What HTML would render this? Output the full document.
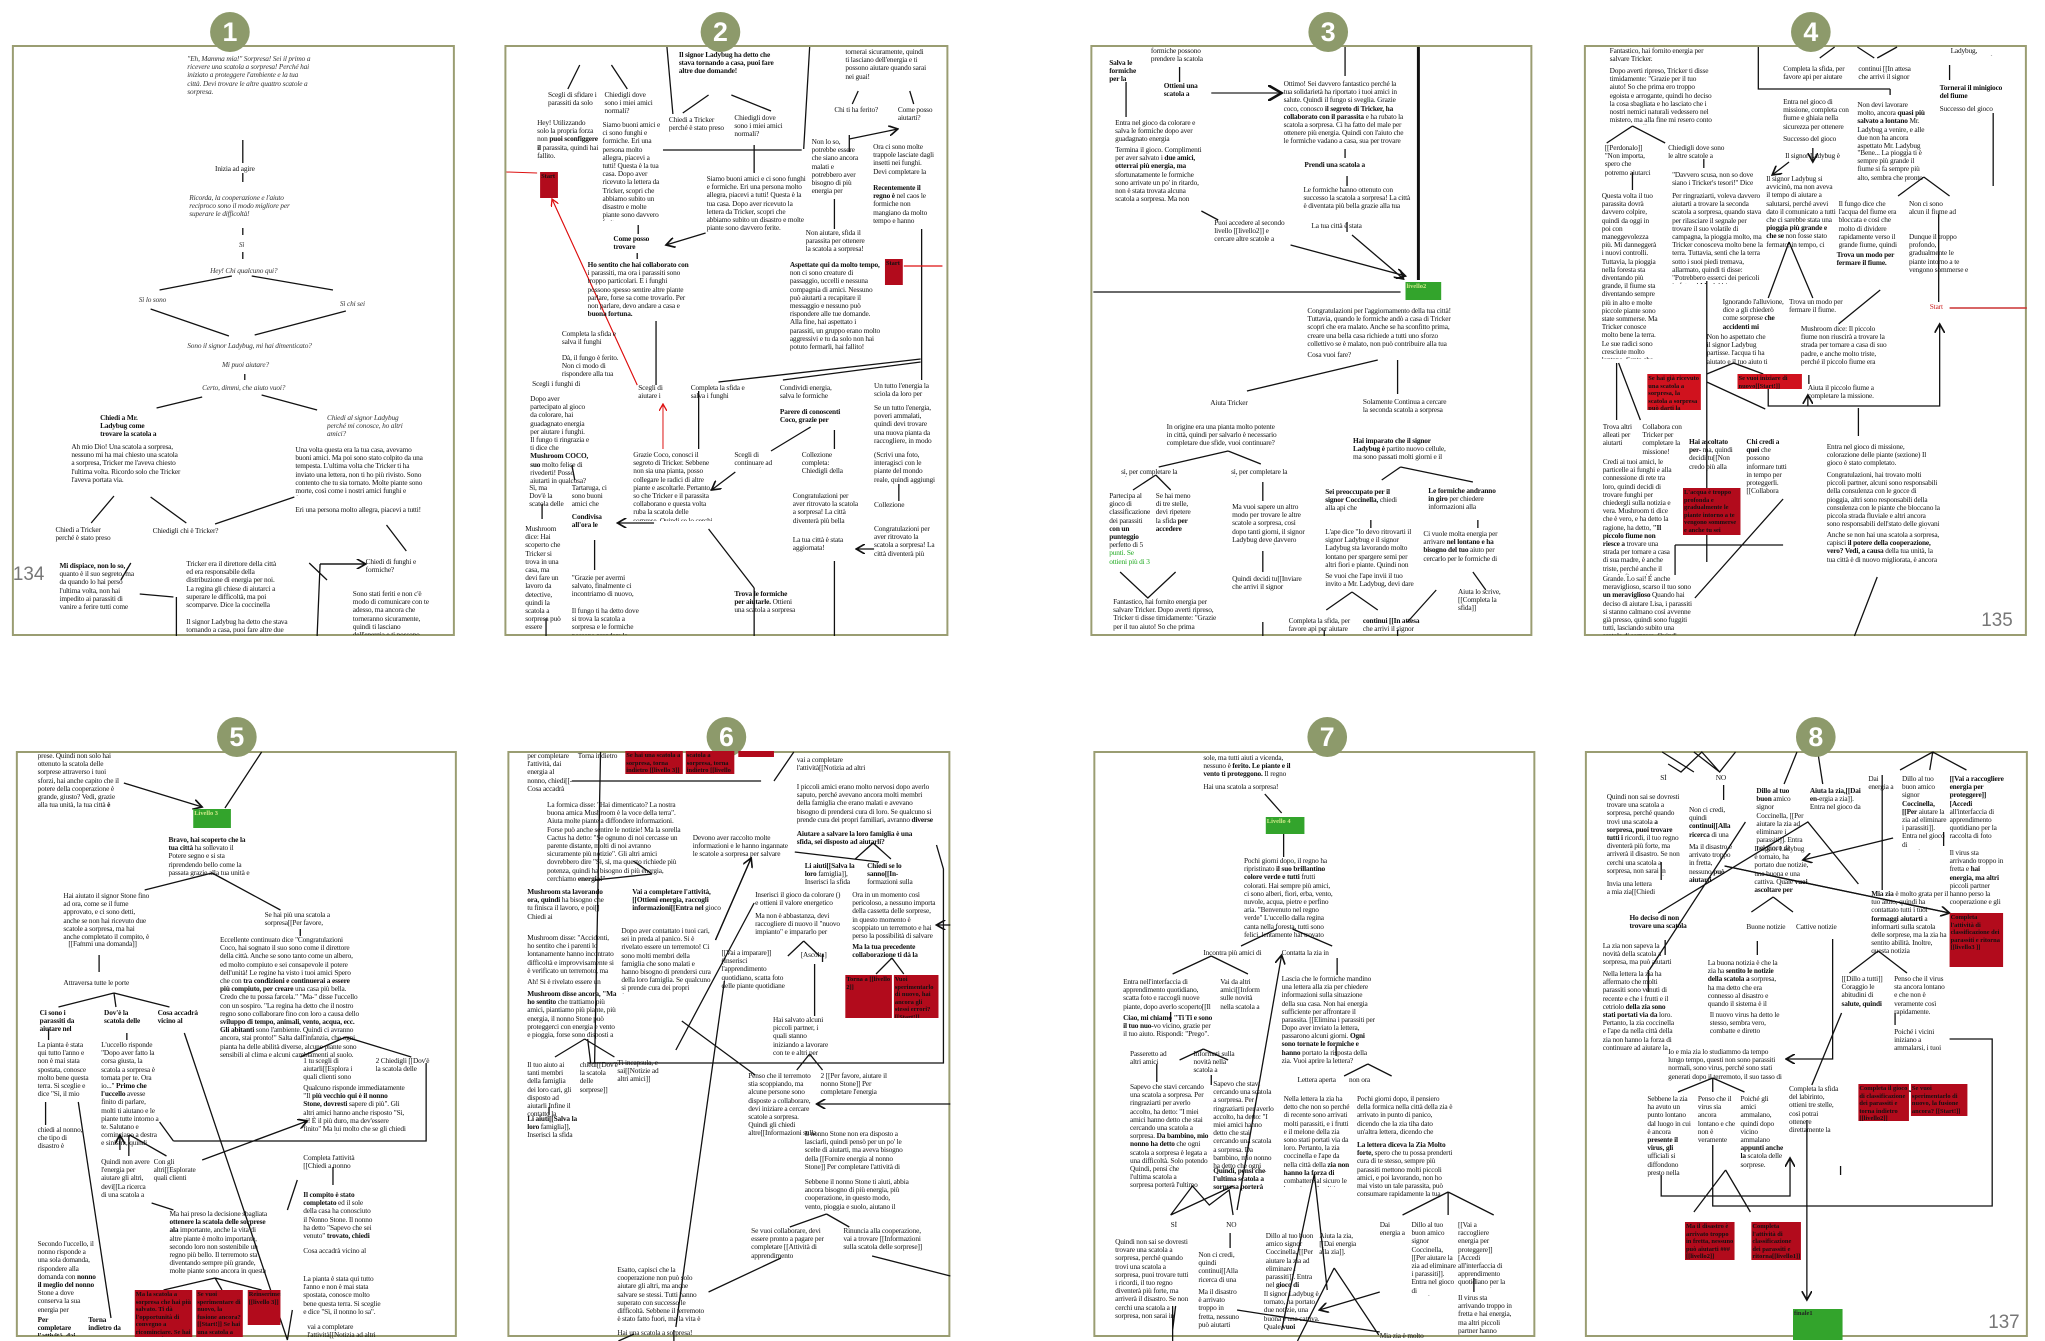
<!DOCTYPE html>
<html><head><meta charset="utf-8"><style>
html,body{margin:0;padding:0;background:#fff}
body{width:2045px;height:1341px;position:relative;overflow:hidden}
.w{position:absolute;left:0;top:0;width:2045px;height:1341px}
.wl{transform-origin:0 0;transform:scaleX(0.991)}
.wr{transform-origin:1022px 0;transform:scaleX(0.991)}
.p{position:absolute;border:2px solid #9a9d72;box-sizing:border-box;background:#fff}
.c{position:absolute;width:40px;height:40px;border-radius:50%;background:#8d9a6b;color:#fff;font:bold 27px/40px "Liberation Sans",sans-serif;text-align:center}
.t{position:absolute;font:7.4px/8.2px "Liberation Serif",serif;color:#111;overflow:hidden;letter-spacing:-0.15px}
.b{font-weight:bold}
.i{font-style:italic;color:#333}
.r{position:absolute;background:#b20b1c;font:bold 6.5px/7.5px "Liberation Serif",serif;color:#111;overflow:hidden;padding:1px}
.rb{background:#d0121e}
.g{position:absolute;background:#33a42c;font:bold 6.5px/8px "Liberation Serif",serif;color:#cfe88a;padding:1px}
.pg{position:absolute;font:19px "Liberation Sans",sans-serif;color:#777}
svg{position:absolute;left:0;top:0}
</style></head><body>

<!-- panels -->
<div class="w wl">
<div class="p" style="left:12px;top:45px;width:447px;height:591px"></div>
<div class="p" style="left:509px;top:45px;width:448px;height:591px"></div>
<div class="p" style="left:16px;top:751px;width:445px;height:586px"></div>
<div class="p" style="left:512px;top:751px;width:447px;height:586px"></div>
</div>
<div class="w wr">
<div class="p" style="left:1091px;top:45px;width:446px;height:591px"></div>
<div class="p" style="left:1589px;top:45px;width:447px;height:591px"></div>
<div class="p" style="left:1094px;top:751px;width:446px;height:586px"></div>
<div class="p" style="left:1590px;top:751px;width:447px;height:586px"></div>
</div>

<!-- LEFT HALF CONTENT -->
<div class="w wl">
<svg width="2045" height="1341" stroke="#111" stroke-width="1.3" fill="none">
<defs><marker id="a" markerWidth="8" markerHeight="8" refX="7" refY="4" orient="auto"><path d="M0,0 L7,4 L0,8" stroke="#111" fill="none"/></marker>
<marker id="ar" markerWidth="8" markerHeight="8" refX="7" refY="4" orient="auto"><path d="M0,0 L7,4 L0,8" stroke="#d11" fill="none"/></marker></defs>
<!-- panel 1 -->
<path d="M245,140V163M245,173V182M245,228V235M245,252V259M234,276L161,290M254,276L336,290M152,309L231,336M349,311L257,335M247,374V380M204,397L158,408M264,395L320,410M115,496L92,523M152,497L188,523M297,497L217,524M132,563L122,580M312,563L330,580M390,525L410,551M323,564H369M323,564L320,636M141,594L175,597M178,597V636"/>
<path d="M323,564H369" marker-end="url(#a)"/>
<!-- panel 2 -->
<path d="M585,65L573,89M617,65L633,89M673,47L679,114M817,47L811,149M715,95L689,113M738,95L778,111M866,91L860,104M918,91L922,104M669,150H809M761,145V173M857,135V152M842,199V229M930,229V380M644,225V234M643,253V259M662,321V385M705,391V449M725,382L929,359M790,380L929,362M842,430V449M842,561V636M761,588V636M600,540V570M547,504V519M907,484V501M715,529L761,588M577,465L580,480M551,618V636M818,427L778,451"/>
<path d="M857,139L906,129" marker-end="url(#a)"/>
<path d="M712,233L672,245" marker-end="url(#a)"/>
<path d="M742,472L718,490" marker-end="url(#a)"/>
<path d="M660,523H623" marker-end="url(#a)"/>
<path d="M882,549H864" marker-end="url(#a)"/>
<path d="M542,173L511,172M557,199L643,385" stroke="#d11" stroke-width="1"/>
<path d="M643,385L557,199" stroke="#d11" stroke-width="1" marker-end="url(#ar)"/>
<path d="M669,449V404" stroke="#d11" stroke-width="1" marker-end="url(#ar)"/>
<path d="M912,266H951" stroke="#d11" stroke-width="1.2"/>
<!-- panel 5 -->
<path d="M125,783L204,807" marker-end="url(#a)"/>
<path d="M264,752L227,808M214,873L146,890M214,873L283,910M100,955V972M303,929V936M115,993L59,1007M115,993L117,1007M115,993L171,1007M49,1029V1040M128,1033V1040M46,1102V1125M79,1102L112,1318M186,1033L290,1340M349,1037L303,1057M349,1037L415,1057M175,1141H430V1063M161,1122L175,1141M130,1135V1156M131,1135L168,1156M336,1167V1185M153,1203L175,1210M217,1278L165,1290M217,1278L224,1290M217,1278L264,1290M290,1340L295,1310"/>
<path d="M121,1150V1135" marker-end="url(#a)"/>
<path d="M204,1160L310,1121" marker-end="url(#a)"/>
<path d="M290,1210L300,1180" />
<!-- panel 6 -->
<path d="M606,752L600,1063M593,1063H952V869L945,845M577,781H768M801,752L781,781M639,861L658,874M658,874L600,880M881,843L863,859M881,843L899,859M802,852L887,862M758,858L722,940M830,954V962M682,1050L761,903M811,941L795,956M811,941L827,956M822,964V1016M900,958L884,974M900,958L912,974M590,1039L560,1057M590,1039L620,1057M593,1039L596,1063M554,1107V1115M817,1054L804,1070M817,1054L830,1070M731,981L682,1327M834,1214L797,1227M834,1214L857,1227M880,1256L959,1276M788,1258L715,1292M680,1330V1341M640,1334L624,1341"/>
<path d="M959,1104H824" marker-end="url(#a)"/>
<path d="M959,925H945" marker-end="url(#a)"/>
<path d="M722,940L758,858" marker-end="url(#a)"/>
<path d="M688,1021L762,1075"/>
</svg>

<div class="c" style="left:212px;top:12px">1</div>
<div class="c" style="left:707px;top:12px">2</div>
<div class="c" style="left:219px;top:717px">5</div>
<div class="c" style="left:713px;top:717px">6</div>
<div class="pg" style="left:13px;top:564px">134</div>

<!-- panel 1 text -->
<div class="t i" style="left:189px;top:55px;width:125px;height:42px">"Eh, Mamma mia!" Sorpresa! Sei il primo a ricevere una scatola a sorpresa! Perché hai iniziato a proteggere l'ambiente e la tua città. Devi trovare le altre quattro scatole a sorpresa.</div>
<div class="t" style="left:217px;top:165px;width:60px;height:9px">Inizia ad agire</div>
<div class="t i" style="left:191px;top:194px;width:115px;height:25px">Ricorda, la cooperazione e l'aiuto reciproco sono il modo migliore per superare le difficoltà!</div>
<div class="t i" style="left:241px;top:241px;width:20px;height:9px">Sì</div>
<div class="t i" style="left:212px;top:267px;width:90px;height:9px">Hey! Chi qualcuno qui?</div>
<div class="t i" style="left:140px;top:296px;width:40px;height:9px">Sì lo sono</div>
<div class="t i" style="left:343px;top:300px;width:40px;height:9px">Sì chi sei</div>
<div class="t i" style="left:189px;top:342px;width:130px;height:9px">Sono il signor Ladybug, mi hai dimenticato?</div>
<div class="t i" style="left:224px;top:361px;width:70px;height:9px">Mi puoi aiutare?</div>
<div class="t i" style="left:204px;top:384px;width:100px;height:9px">Certo, dimmi, che aiuto vuoi?</div>
<div class="t b" style="left:101px;top:414px;width:65px;height:25px">Chiedi a Mr. Ladybug come trovare la scatola a sorpresa</div>
<div class="t i" style="left:330px;top:414px;width:80px;height:25px">Chiedi al signor Ladybug perché mi conosce, ho altri amici?</div>
<div class="t" style="left:72px;top:443px;width:110px;height:42px">Ah mio Dio! Una scatola a sorpresa, nessuno mi ha mai chiesto una scatola a sorpresa, Tricker me l'aveva chiesto l'ultima volta. Ricordo solo che Tricker l'aveva portata via.</div>
<div class="t" style="left:298px;top:446px;width:130px;height:50px">Una volta questa era la tua casa, avevamo buoni amici. Ma poi sono stato colpito da una tempesta. L'ultima volta che Tricker ti ha inviato una lettera, non ti ho più rivisto. Sono contento che tu sia tornato. Molte piante sono morte, così come i nostri amici funghi e formiche.</div>
<div class="t" style="left:298px;top:506px;width:130px;height:9px">Eri una persona molto allegra, piacevi a tutti!</div>
<div class="t" style="left:56px;top:526px;width:60px;height:17px">Chiedi a Tricker perché è stato preso</div>
<div class="t" style="left:154px;top:527px;width:75px;height:9px">Chiedigli chi è Tricker?</div>
<div class="t" style="left:60px;top:562px;width:80px;height:50px"><b>Mi dispiace, non lo so,</b> quanto è il suo segreto, ma da quando lo hai perso l'ultima volta, non hai impedito ai parassiti di vanire a ferire tutti come prima.</div>
<div class="t" style="left:188px;top:560px;width:95px;height:50px">Tricker era il direttore della città ed era responsabile della distribuzione di energia per noi. La regina gli chiese di aiutarci a superare le difficoltà, ma poi scomparve. Dice la coccinella con un sospiro.</div>
<div class="t" style="left:188px;top:618px;width:105px;height:17px">Il signor Ladybug ha detto che stava tornando a casa, puoi fare altre due</div>
<div class="t" style="left:369px;top:558px;width:55px;height:17px">Chiedi di funghi e formiche?</div>
<div class="t" style="left:356px;top:590px;width:82px;height:45px">Sono stati feriti e non c'è modo di comunicare con te adesso, ma ancora che torneranno sicuramente, quindi ti lasciano dell'energia e ti possono aiutare</div>

<!-- panel 2 text -->
<div class="t b" style="left:685px;top:51px;width:103px;height:25px">Il signor Ladybug ha detto che stava tornando a casa, puoi fare altre due domande!</div>
<div class="t" style="left:853px;top:48px;width:84px;height:33px">tornerai sicuramente, quindi ti lasciano dell'energia e ti possono aiutare quando sarai nei guai!</div>
<div class="t" style="left:553px;top:91px;width:50px;height:17px">Scegli di sfidare i parassiti da solo</div>
<div class="t" style="left:610px;top:91px;width:50px;height:25px">Chiedigli dove sono i miei amici normali?</div>
<div class="t" style="left:675px;top:116px;width:60px;height:17px">Chiedi a Tricker perché è stato preso</div>
<div class="t" style="left:741px;top:114px;width:55px;height:25px">Chiedigli dove sono i miei amici normali?</div>
<div class="t" style="left:842px;top:106px;width:45px;height:9px">Chi ti ha ferito?</div>
<div class="t" style="left:906px;top:106px;width:38px;height:17px">Come posso aiutarti?</div>
<div class="t" style="left:542px;top:119px;width:62px;height:42px">Hey! Utilizzando solo la propria forza non <b>puoi sconfiggere il</b> parassita, quindi hai fallito.</div>
<div class="t" style="left:608px;top:121px;width:62px;height:100px">Siamo buoni amici e ci sono funghi e formiche. Eri una persona molto allegra, piacevi a tutti! Questa è la tua casa. Dopo aver ricevuto la lettera da Tricker, scopri che abbiamo subito un disastro e molte piante sono davvero ferite.</div>
<div class="t" style="left:713px;top:175px;width:103px;height:58px">Siamo buoni amici e ci sono funghi e formiche. Eri una persona molto allegra, piacevi a tutti! Questa è la tua casa. Dopo aver ricevuto la lettera da Tricker, scopri che abbiamo subito un disastro e molte piante sono davvero ferite.</div>
<div class="t" style="left:819px;top:138px;width:50px;height:58px">Non lo so, potrebbe essere che siano ancora malati e potrebbero aver bisogno di più energia per recuperare.</div>
<div class="t" style="left:881px;top:143px;width:62px;height:33px">Ora ci sono molte trappole lasciate dagli insetti nei funghi. Devi completare la sfida per farli recuperare più velocemente.</div>
<div class="t" style="left:881px;top:184px;width:62px;height:42px"><b>Recentemente il regno è</b> nel caos le formiche non mangiano da molto tempo e hanno bisogno di energia per recuperare il loro spirito.</div>
<div class="t" style="left:813px;top:229px;width:60px;height:25px">Non aiutare, sfida il parassita per ottenere la scatola a sorpresa!</div>
<div class="t b" style="left:619px;top:235px;width:45px;height:17px">Come posso trovare Tricker?</div>
<div class="t" style="left:593px;top:261px;width:105px;height:58px"><b>Ho sentito che hai collaborato con</b> i parassiti, ma ora i parassiti sono troppo particolari. E i funghi possono spesso sentire altre piante parlare, forse sa come trovarlo. Per non parlare, devo andare a casa e <b>buona fortuna.</b></div>
<div class="t" style="left:797px;top:261px;width:93px;height:92px"><b>Aspettate qui da molto tempo,</b> non ci sono creature di passaggio, uccelli e nessuna compagnia di amici. Nessuno può aiutarti a recapitare il messaggio e nessuno può rispondere alle tue domande. Alla fine, hai aspettato i parassiti, un gruppo erano molto aggressivi e tu da solo non hai potuto fermarli, hai fallito!</div>
<div class="t" style="left:567px;top:330px;width:62px;height:17px">Completa la sfida e salva il funghi</div>
<div class="t" style="left:567px;top:354px;width:65px;height:25px">Dà, il fungo è ferito. Non ci modo di rispondere alla tua domanda!</div>
<div class="t" style="left:537px;top:380px;width:60px;height:9px">Scegli i funghi di aiuto</div>
<div class="t" style="left:644px;top:384px;width:40px;height:17px">Scegli di aiutare i parassiti</div>
<div class="t" style="left:697px;top:384px;width:62px;height:17px">Completa la sfida e salva i funghi</div>
<div class="t" style="left:787px;top:384px;width:62px;height:17px">Condividi energia, salva le formiche</div>
<div class="t" style="left:882px;top:382px;width:58px;height:17px">Un tutto l'energia la sciola da loro per aiutare gli amici</div>
<div class="t" style="left:535px;top:395px;width:60px;height:100px">Dopo aver partecipato al gioco da colorare, hai guadagnato energia per aiutare i funghi. Il fungo ti ringrazia e ti dice che <b>Mushroom COCO, suo</b> molto felice di rivederti! Posso aiutarti in qualcosa?</div>
<div class="t b" style="left:787px;top:408px;width:65px;height:17px">Parere di conoscenti Coco, grazie per avermi salvato.</div>
<div class="t" style="left:882px;top:404px;width:60px;height:42px">Se un tutto l'energia, poveri ammalati, quindi devi trovare una nuova pianta da raccogliere, in modo che ci sia più energia per proteggere i tuoi amici!</div>
<div class="t" style="left:639px;top:451px;width:80px;height:70px">Grazie Coco, conosci il segreto di Tricker. Sebbene non sia una pianta, posso collegare le radici di altre piante e ascoltarle. Pertanto, so che Tricker e il parassita collaborano e questa volta ruba la scatola delle sorprese. Quindi se lo cerchi vai alla casa dei funghi.</div>
<div class="t" style="left:741px;top:451px;width:55px;height:17px">Scegli di continuare ad aiutare i funghi</div>
<div class="t" style="left:809px;top:451px;width:55px;height:25px">Collezione completa: Chiedigli della scatola a sorpresa</div>
<div class="t" style="left:882px;top:451px;width:62px;height:33px">(Scrivi una foto, interagisci con le piante del mondo reale, quindi aggiungi alla pagina pratica a sorpresa)</div>
<div class="t" style="left:534px;top:484px;width:36px;height:25px">Sì, ma Dov'è la scatola delle sorprese?</div>
<div class="t" style="left:577px;top:484px;width:42px;height:25px">Tartaruga, ci sono buoni amici che sono li scoprire.</div>
<div class="t b" style="left:577px;top:513px;width:42px;height:17px">Condivisa all'ora le formiche</div>
<div class="t" style="left:530px;top:525px;width:38px;height:108px">Mushroom dice: Hai scoperto che Tricker si trova in una casa, ma devi fare un lavoro da detective, quindi la scatola a sorpresa può essere ottenuta dopo aver salvato le formiche.</div>
<div class="t" style="left:577px;top:574px;width:65px;height:25px">"Grazie per avermi salvato, finalmente ci incontriamo di nuovo, ci posso aiutare in qualcosa?"</div>
<div class="t" style="left:577px;top:607px;width:68px;height:28px">Il fungo ti ha detto dove si trova la scatola a sorpresa e le formiche possono prendere la scatola.</div>
<div class="t" style="left:800px;top:492px;width:67px;height:33px">Congratulazioni per aver ritrovato la scatola a sorpresa! La città diventerà più bella grazie alla tua partecipazione!</div>
<div class="t" style="left:800px;top:536px;width:60px;height:17px">La tua città è stata aggiornata!</div>
<div class="t" style="left:882px;top:501px;width:50px;height:9px">Collezione completa.</div>
<div class="t" style="left:882px;top:525px;width:62px;height:33px">Congratulazioni per aver ritrovato la scatola a sorpresa! La città diventerà più bella grazie alla tua partecipazione!</div>
<div class="t" style="left:741px;top:590px;width:65px;height:25px"><b>Trova le formiche per aiutarle.</b> Ottieni una scatola a sorpresa</div>
<div class="r" style="left:545px;top:172px;width:16px;height:24px">Start</div>
<div class="r" style="left:893px;top:259px;width:16px;height:24px">Start</div>

<!-- panel 5 text -->
<div class="t" style="left:38px;top:752px;width:88px;height:58px">prese. Quindi non solo hai ottenuto la scatola delle sorprese attraverso i tuoi sforzi, hai anche capito che il potere della cooperazione è grande, giusto? Vedi, grazie alla tua unità, la tua città <b>è stata di nuovo potenziata, rendila</b> ancora più sicura, è più bello!</div>
<div class="g" style="left:195px;top:809px;width:36px;height:17px">Livello 3</div>
<div class="t" style="left:170px;top:836px;width:85px;height:42px"><b>Bravo, hai scoperto che la tua città</b> ha sollevato il Potere segno e si sta riprendendo bello come la passata grazie alla tua unità e cooperazione <b>per creare un regno più bello!</b></div>
<div class="t" style="left:64px;top:892px;width:88px;height:50px">Hai aiutato il signor Stone fino ad ora, come se il fume approvato, e ci sono detti, anche se non hai ricevuto due scatole a sorpresa, ma hai anche completato il compito, è che è fantastico. Puoi</div>
<div class="t" style="left:267px;top:911px;width:85px;height:17px">Se hai più una scatola a sorpresa[[Per favore, aspettare]]</div>
<div class="t" style="left:69px;top:940px;width:70px;height:9px">[[Fammi una domanda]]</div>
<div class="t" style="left:64px;top:979px;width:70px;height:9px">Attraversa tutte le porte</div>
<div class="t" style="left:222px;top:936px;width:142px;height:125px">Eccellente continuato dice "Congratulazioni Coco, hai sognato il suo sono come il direttore della città. Anche se sono tanto come un albero, ed molto compiuto e sei consapevole il potere dell'unità! Le regine ha visto i tuoi amici Spero che con <b>tra condizioni e continuerai a essere più compiuto, per creare</b> una casa più bella. Credo che tu possa farcela." "Ma-" disse l'uccello con un sospiro. "La regina ha detto che il nostro regno sono collaborare fino con loro a causa dello <b>sviluppo di tempo, animali, vento, acqua, ecc. Gli abitanti</b> sono l'ambiente. Quindi ci avranno ancora, stai pronto!" Salta dall'infanzia, che ogni pianta ha delle abilità diverse, alcune piante sono sensibili al clima e alcuni cambiamenti al suolo.</div>
<div class="t b" style="left:40px;top:1009px;width:42px;height:25px">Ci sono i parassiti da aiutare nel regno?</div>
<div class="t b" style="left:105px;top:1009px;width:45px;height:17px">Dov'è la scatola delle sorprese</div>
<div class="t b" style="left:159px;top:1009px;width:45px;height:17px">Cosa accadrà vicino al regno?</div>
<div class="t" style="left:38px;top:1041px;width:55px;height:58px">La pianta è stata qui tutto l'anno e non è mai stata spostata, conosce molto bene questa terra. Si sceglie e dice "Sì, il mio amico sta pensando a questo punto."</div>
<div class="t" style="left:102px;top:1041px;width:60px;height:108px">L'uccello risponde "Dopo aver fatto la corsa giusta, la scatola a sorpresa è tornata per te. Ora io..." <b>Primo che l'uccello</b> avesse finito di parlare, molti ti aiutano e le piante tutte intorno a te. Salutano e cominciano a destra e sinistra, quindi l'uccello volò via rapidamente.</div>
<div class="t" style="left:38px;top:1126px;width:45px;height:25px">chiedi al nonno, che tipo di disastro è questo?</div>
<div class="t" style="left:306px;top:1057px;width:60px;height:25px">1 tu scegli di aiutarli[[Esplora i quali clienti sono importanti]]</div>
<div class="t" style="left:379px;top:1057px;width:60px;height:17px">2 Chiedigli [[Dov'è la scatola delle sorprese]]</div>
<div class="t" style="left:306px;top:1084px;width:105px;height:50px">Qualcuno risponde immediatamente "Il <b>più vecchio qui è il nonno Stone, dovresti</b> sapere di più". Gli altri amici hanno anche risposto "Sì, sì! È il più duro, ma dev'essere finito" Ma lui molto che se gli chiedi aiuto, devi fornirgli energia.</div>
<div class="t" style="left:102px;top:1158px;width:50px;height:42px">Quindi non avere l'energia per aiutare gli altri, devi[[La ricerca di una scatola a sorpresa qui]]</div>
<div class="t" style="left:155px;top:1158px;width:48px;height:25px">Con gli altri[[Esplorate quali clienti importanti]]</div>
<div class="t" style="left:306px;top:1154px;width:70px;height:17px">Completa l'attività [[Chiedi a nonno Stone]]</div>
<div class="t" style="left:306px;top:1191px;width:72px;height:50px"><b>Il compito è stato completato</b> ed il sole della casa ha conosciuto il Nonno Stone. Il nonno ha detto "Sapevo che sei venuto" <b>trovato, chiedi pure quello che</b> vuoi!"</div>
<div class="t" style="left:306px;top:1247px;width:80px;height:9px">Cosa accadrà vicino al regno?</div>
<div class="t" style="left:171px;top:1210px;width:100px;height:67px">Ma hai preso la decisione sbagliata <b>ottenere la scatola delle sorprese ala</b> importante, anche la vita di altre piante è molto importante, secondo loro non sostenibile un regno più bello. Il terremoto sta diventando sempre più grande, molte piante sono ancora in questa città da un cam per verder la un posto più sicuro, una ciclo!</div>
<div class="t" style="left:38px;top:1240px;width:60px;height:75px">Secondo l'uccello, il nonno risponde a una sola domanda, rispondere alla domanda con <b>nonno il meglio del nonno</b> Stone a dove conserva la sua energia per proteggere la sua famiglia durante il disastro</div>
<div class="t" style="left:306px;top:1275px;width:78px;height:42px">La pianta è stata qui tutto l'anno e non è mai stata spostata, conosce molto bene questa terra. Si sceglie e dice "Sì, il nonno lo sa".</div>
<div class="t" style="left:310px;top:1323px;width:70px;height:17px">vai a completare l'attività[[Notizia ad altri amici]]</div>
<div class="t b" style="left:38px;top:1316px;width:45px;height:20px">Per completare l'attività, dai energia al nonno, chiedi</div>
<div class="t b" style="left:89px;top:1316px;width:40px;height:17px">Torna indietro da altri partner</div>
<div class="r" style="left:136px;top:1290px;width:56px;height:45px">Ma la scatola a sorpresa che hai più salvato. Ti dà l'opportunità di convegno a ricominciare. Se hai una scatola a sorpresa, torna indietro [[livello 3]]</div>
<div class="r" style="left:198px;top:1290px;width:45px;height:45px">Se vuoi sperimentare di nuovo, la fusione ancora? [[Start!]] Se hai una scatola a sorpresa, torna indietro [[livello 3]]</div>
<div class="r" style="left:250px;top:1290px;width:31px;height:33px">Reinserimento [[livello 3]]</div>

<!-- panel 6 text -->
<div class="t" style="left:532px;top:752px;width:46px;height:42px">per completare l'attività, dai energia al nonno, chiedi[[- Cosa accadrà vicino al regno?]]</div>
<div class="t" style="left:583px;top:752px;width:42px;height:9px">Torna indietro da altri partner</div>
<div class="r" style="left:631px;top:751px;width:56px;height:21px">Se hai una scatola a sorpresa, torna indietro [[livello 3]]</div>
<div class="r" style="left:692px;top:751px;width:47px;height:21px">scatola a sorpresa, torna indietro [[livello 3]]</div>
<div class="r" style="left:745px;top:751px;width:34px;height:4px"></div>
<div class="t" style="left:804px;top:756px;width:70px;height:17px">vai a completare l'attività[[Notizia ad altri amici]]</div>
<div class="t" style="left:804px;top:783px;width:138px;height:42px">I piccoli amici erano molto nervosi dopo averlo saputo, perché avevano ancora molti membri della famiglia che erano malati e avevano bisogno di prendersi cura di loro. Se qualcuno si prende cura dei propri familiari, avranno <b>diverse abilità per proteggere le loro cure!</b></div>
<div class="t b" style="left:804px;top:830px;width:130px;height:17px">Aiutare a salvare la loro famiglia è una sfida, sei disposto ad aiutarli?</div>
<div class="t" style="left:552px;top:801px;width:137px;height:84px">La formica disse: "Hai dimenticato? La nostra buona amica Mushroom è la voce della terra". Aiuta molte piante a diffondere informazioni. Forse può anche sentire le notizie! Ma la sorella Cactus ha detto: "Se ognuno di noi cercasse un parente distante, molti di noi avranno sicuramente più notizie". Gli altri amici dovrebbero dire "Sì, sì, ma questo richiede più potenza, quindi ha bisogno di più energia, cerchiamo <b>energia!</b>"</div>
<div class="t" style="left:699px;top:834px;width:100px;height:25px">Devono aver raccolto molte informazioni e le hanno ingannate le scatole a sorpresa per salvare tutti, Chiedi se lo sanno</div>
<div class="t" style="left:812px;top:862px;width:55px;height:25px"><b>Li aiuti[[Salva la loro</b> famiglia]], Inserisci la sfida</div>
<div class="t" style="left:875px;top:862px;width:58px;height:25px"><b>Chiedi se lo sanno[[In-</b>formazioni sulla scatola delle sorprese]</div>
<div class="t" style="left:532px;top:888px;width:80px;height:33px"><b>Mushroom sta lavorando ora, quindi</b> ha bisogno che tu finisca il lavoro, e poi[] Chiedi ai funghi[[Informazioni. (Inserisci l'attività di colorazione)</div>
<div class="t" style="left:638px;top:888px;width:90px;height:25px"><b>Vai a completare l'attività, [[Ottieni energia, raccogli informazioni[[Entra nel</b> gioco di classificazione dei parassiti]</div>
<div class="t" style="left:762px;top:891px;width:88px;height:17px">Inserisci il gioco da colorare () e ottieni il valore energetico alla fine del gioco.</div>
<div class="t" style="left:860px;top:891px;width:85px;height:50px">Ora in un momento così pericoloso, a nessuno importa della cassetta delle sorprese, in questo momento è scoppiato un terremoto e hai perso la possibilità di salvare la tua casa. Impossibile.</div>
<div class="t" style="left:762px;top:912px;width:88px;height:25px">Ma non è abbastanza, devi raccogliere di nuovo il "nuovo impianto" e impararlo per ottenere energia.</div>
<div class="t b" style="left:860px;top:943px;width:85px;height:17px">Ma la tua precedente collaborazione ti dà la possibilità di scegliere.</div>
<div class="t" style="left:532px;top:934px;width:90px;height:42px">Mushroom disse: "Accidenti, ho sentito che i parenti lo lontanamente hanno incontrato difficoltà e improvvisamente si è verificato un terremoto, ma non so se arriverà anche qui!"</div>
<div class="t" style="left:532px;top:978px;width:90px;height:9px">Ah! Si è rivelato essere un terremoto!</div>
<div class="t" style="left:627px;top:927px;width:92px;height:67px">Dopo aver contattato i tuoi cari, sei in preda al panico. Si è rivelato essere un terremoto! Ci sono molti membri della famiglia che sono malati e hanno bisogno di prendersi cura della loro famiglia. Se qualcuno si prende cura dei propri familiari, avranno diverse abilità per proteggere le loro cure!</div>
<div class="t" style="left:728px;top:949px;width:65px;height:42px">[[Vai a imparare]] (Inserisci l'apprendimento quotidiano, scatta foto delle piante quotidiane e poi raccogli)</div>
<div class="t" style="left:808px;top:951px;width:40px;height:9px">[Ascolta]</div>
<div class="t" style="left:532px;top:990px;width:90px;height:50px"><b>Mushroom disse ancora, "Ma ho sentito</b> che trattiamo più amici, piantiamo più piante, più energia, il nonno Stone può proteggerci con energia e vento e pioggia, forse sono disposti a cooperare con noi"</div>
<div class="r" style="left:853px;top:975px;width:45px;height:41px">Torna a [[livello 2]]</div>
<div class="r" style="left:902px;top:975px;width:43px;height:41px">Vuoi sperimentarlo di nuovo, hai <b>ancora gli stessi</b> errori? [[Start!]]</div>
<div class="t" style="left:780px;top:1016px;width:60px;height:42px">Hai salvato alcuni piccoli partner, i quali stanno iniziando a lavorare con te e altri per prendersi cura della loro famiglia.</div>
<div class="t" style="left:532px;top:1061px;width:48px;height:58px">Il tuo aiuto ai tanti membri della famiglia dei loro cari, gli disposto ad aiutarli Infine il contatto la chiarezza</div>
<div class="t" style="left:585px;top:1061px;width:40px;height:33px">chiedi[[Dov'è la scatola delle sorprese]]</div>
<div class="t" style="left:623px;top:1059px;width:42px;height:25px">Ti incapsula, e sai[[Notizie ad altri amici]]</div>
<div class="t" style="left:532px;top:1115px;width:55px;height:33px"><b>Li aiuti[[Salva la loro</b> famiglia]], Inserisci la sfida</div>
<div class="t" style="left:755px;top:1072px;width:72px;height:67px">Penso che il terremoto stia scoppiando, ma alcune persone sono disposte a collaborare, devi iniziare a cercare scatole a sorpresa. Quindi gli chiedi altre[[Informazioni sulla scatola delle sorprese]]?</div>
<div class="t" style="left:828px;top:1072px;width:68px;height:25px">2 [[Per favore, aiutare il nonno Stone]] Per completare l'energia</div>
<div class="t" style="left:812px;top:1130px;width:105px;height:42px">Il nonno Stone non era disposto a lasciarli, quindi pensò per un po' le scelte di aiutarti, ma aveva bisogno della [[Fornire energia al nonno Stone]] Per completare l'attività di apprendimento.</div>
<div class="t" style="left:812px;top:1178px;width:105px;height:33px">Sebbene il nonno Stone ti aiuti, abbia ancora bisogno di più energia, più cooperazione, in questo modo, vento, pioggia e suolo, aiutano il regno vegetale.</div>
<div class="t" style="left:758px;top:1227px;width:78px;height:33px">Se vuoi collaborare, devi essere pronto a pagare per completare [[Attività di apprendimento quotidiano]]</div>
<div class="t" style="left:851px;top:1227px;width:85px;height:25px">Rinuncia alla cooperazione, vai a trovare [[Informazioni sulla scatola delle sorprese]]</div>
<div class="t" style="left:623px;top:1266px;width:92px;height:58px">Esatto, capisci che la cooperazione non può solo aiutare gli altri, ma anche salvare se stessi. Tutti hanno superato con successo le difficoltà. Sebbene il terremoto è stato fatto fuori, ma la vita è stata ricostruita ed è fatto. Le piante e il vento ti proteggono, il regno vegetale è stato restaurato!</div>
<div class="t" style="left:623px;top:1329px;width:90px;height:9px">Hai una scatola a sorpresa!</div>
</div>

<!-- RIGHT HALF CONTENT -->
<div class="w wr">
<svg width="2045" height="1341" stroke="#111" stroke-width="1.3" fill="none">
<defs><marker id="b" markerWidth="8" markerHeight="8" refX="7" refY="4" orient="auto"><path d="M0,0 L7,4 L0,8" stroke="#111" fill="none"/></marker></defs>
<!-- panel 3 -->
<path d="M1181,67V82M1348,47V76M1127,82V117M1348,149V158M1350,176V186M1350,222V232M1203,211L1220,220M1094,292H1404M1381,360L1249,391M1401,360V394M1230,451L1160,467M1230,451L1263,464M1157,475L1134,490M1157,475L1172,490M1265,482V501M1404,467L1477,482M1404,467L1385,480M1374,520V528M1482,520V528M1265,551V572M1121,572L1149,598L1177,572M1355,592L1329,610M1355,592L1381,610M1440,590L1411,622M1477,572L1490,590M1265,622V636M1401,630V636M1327,630V636"/>
<path d="M1422,47V280" stroke-width="3"/>
<path d="M1213,93H1284" stroke="#777" stroke-width="2" marker-end="url(#b)"/>
<path d="M1293,245L1409,276" marker-end="url(#b)"/>
<path d="M1355,235L1407,279" marker-end="url(#b)"/>
<!-- panel 4 -->
<path d="M1765,47V89H1898M1898,89V95M1842,47L1827,58M1865,47L1882,58M1905,47L1885,58M1958,65V80M2002,113V186M1638,126L1612,143M1638,126L1671,143M1638,172V190M1710,159V168M1932,177L1906,196M1932,177L1958,196M1947,214V302M1796,242L1775,298M1796,242L1820,298M1888,290L1846,324M1713,281V562M1740,363L1713,374M1740,363L1770,374M1622,363L1622,420M1624,363L1646,420M1713,382L1772,409M1681,545H1790M1790,499L1701,598M1681,545V575M1866,408V436M1885,577L1862,636M1816,375V384"/>
<path d="M1775,385V406H1948V324" />
<path d="M1948,330V324" marker-end="url(#b)"/>
<path d="M1815,406V395" marker-end="url(#b)"/>
<path d="M1796,162L1779,175" marker-end="url(#b)"/>
<path d="M1820,148V162" marker-end="url(#b)"/>
<path d="M1958,308H2036" stroke="#c33" stroke-width="1.5"/>
<!-- panel 7 -->
<path d="M1267,794L1284,813M1286,834V857M1279,929L1243,946M1295,929L1335,946M1213,956L1174,974M1213,956L1250,974M1340,958V975M1172,1012V1022M1205,1049L1181,1060M1205,1049L1230,1060M1158,1064V1082M1213,1075V1085M1339,1046V1056M1371,1064L1347,1076M1371,1064L1395,1076M1172,1215L1194,1186L1211,1205L1231,1190L1235,1215M1172,1215L1235,1186M1232,1233V1248M1317,1174L1284,1330M1317,1174L1330,1290M1452,1192L1406,1215M1452,1192V1215M1452,1192L1498,1215M1478,1278V1292M1239,1310L1383,1332M1337,1268L1300,1341M1337,1268L1382,1335M1177,1306L1174,1330M1174,1306V1341"/>
<path d="M1239,1210L1284,955" marker-end="url(#b)"/>
<path d="M1383,1292L1322,1310" marker-end="url(#b)"/>
<!-- panel 8 -->
<path d="M1674,764L1687,772L1708,752L1726,772L1742,752M1668,752L1700,772M1700,752L1726,772M1804,752L1791,784M1825,752L1830,784M1941,752L1908,770M1941,752L1938,770M1941,752L1975,770M1730,785V800M1667,862V880M1671,940V955M1654,970V992M1952,832V846M1890,775V890M1780,897L1758,912M1780,897L1800,912M1764,941V955M1886,951L1857,973M1886,951L1915,973M1903,1013V1025M1849,1013L1819,1085M1719,1078L1684,1092M1719,1078V1092M1719,1078L1751,1092M1909,1089L1894,1099M1909,1089L1950,1099M1732,1170L1700,1212M1732,1170L1757,1212M1667,1175V1196H1797V1165M1719,1145V1206H2001V1039H1958M1848,1166V1175"/>
<path d="M1840,939V1059H1793" marker-end="url(#b)"/>
<path d="M1655,970L1752,822" />
<path d="M1664,913L1815,822L1866,884M1731,866L1958,913" />
<path d="M1731,866L1958,913" marker-end="url(#b)"/>
<path d="M1901,838L1810,860" marker-end="url(#b)"/>
<path d="M1797,1165L1797,1158" marker-end="url(#b)"/>
<path d="M1814,1120V1300" marker-end="url(#b)"/>
</svg>

<div class="c" style="left:1311px;top:12px">3</div>
<div class="c" style="left:1798px;top:12px">4</div>
<div class="c" style="left:1310px;top:717px">7</div>
<div class="c" style="left:1803px;top:717px">8</div>

<!-- panel 3 text -->
<div class="t" style="left:1152px;top:47px;width:72px;height:17px">formiche possono prendere la scatola</div>
<div class="t b" style="left:1110px;top:59px;width:32px;height:25px">Salva le formiche per la scatola</div>
<div class="t b" style="left:1165px;top:82px;width:45px;height:17px">Ottieni una scatola a sorpresa</div>
<div class="t" style="left:1286px;top:80px;width:122px;height:67px">Ottimo! Sei davvero fantastico perché la tua solidarietà ha riportato i tuoi amici in salute. Quindi il fungo si sveglia. Grazie coco, conosco <b>il segreto di Tricker, ha collaborato con il parassita</b> e ha rubato la scatola a sorpresa. Ci ha fatto del male per ottenere più energia. Quindi con l'aiuto che le formiche vadano a casa, sua per trovare la scatola <b>delle sorprese.</b></div>
<div class="t" style="left:1116px;top:119px;width:88px;height:25px">Entra nel gioco da colorare e salva le formiche dopo aver guadagnato energia</div>
<div class="t" style="left:1116px;top:146px;width:88px;height:58px">Termina il gioco. Complimenti per aver salvato i <b>due amici, otterrai più energia, ma</b> sfortunatamente le formiche sono arrivate un po' in ritardo, non è stata trovata alcuna scatola a sorpresa. Ma non scoraggiarti, la tua città migliorerà grazie alla tua disponibilità ad aiutare gli altri!</div>
<div class="t b" style="left:1307px;top:161px;width:85px;height:9px">Prendi una scatola a sorpresa</div>
<div class="t" style="left:1306px;top:186px;width:110px;height:25px">Le formiche hanno ottenuto con successo la scatola a sorpresa! La città è diventata più bella grazie alla tua collaborazione!</div>
<div class="t" style="left:1216px;top:219px;width:75px;height:25px">Puoi accedere al secondo livello [[livello2]] e cercare altre scatole a sorpresa!</div>
<div class="t" style="left:1314px;top:222px;width:75px;height:9px">La tua città è stata aggiornata!</div>
<div class="g" style="left:1409px;top:282px;width:34px;height:16px">livello2</div>
<div class="t" style="left:1310px;top:307px;width:155px;height:42px">Congratulazioni per l'aggiornamento della tua città! Tuttavia, quando le formiche andò a casa di Tricker scoprì che era malato. Anche se ha sconfitto prima, creare una bella casa richiede a tutti uno sforzo collettivo se è malato, non può contribuire alla tua <b>città!</b></div>
<div class="t" style="left:1310px;top:351px;width:50px;height:9px">Cosa vuoi fare?</div>
<div class="t" style="left:1212px;top:399px;width:45px;height:9px">Aiuta Tricker</div>
<div class="t" style="left:1366px;top:398px;width:88px;height:17px">Solamente Continua a cercare la seconda scatola a sorpresa</div>
<div class="t" style="left:1168px;top:423px;width:112px;height:25px">In origine era una pianta molto potente in città, quindi per salvarlo è necessario completare due sfide, vuoi continuare?</div>
<div class="t" style="left:1356px;top:437px;width:98px;height:25px"><b>Hai imparato che il signor Ladybug è</b> partito nuovo cellule, ma sono passati molti giorni e il signor Ladybug non è stato qui.</div>
<div class="t" style="left:1122px;top:468px;width:70px;height:9px">sì, per completare la sfida</div>
<div class="t" style="left:1233px;top:468px;width:70px;height:9px">sì, per completare la sfida</div>
<div class="t" style="left:1110px;top:492px;width:42px;height:75px">Partecipa al gioco di classificazione dei parassiti <b>con un punteggio</b> perfetto di 5 <span style="color:#2a2">punti. Se ottieni più di 3 punti</span>, puoi salvare direttamente[[La prossima sfida]]</div>
<div class="t" style="left:1157px;top:492px;width:38px;height:42px">Se hai meno di tre stelle, devi ripetere la sfida <b>per accedere</b> quella successiva [[La prossima sfida]]</div>
<div class="t" style="left:1234px;top:503px;width:74px;height:42px">Ma vuoi sapere un altro modo per trovare le altre scatole a sorpresa, così dopo tanti giorni, il signor Ladybug deve davvero avere notizie! È il più <b>informato del regno!</b></div>
<div class="t" style="left:1328px;top:488px;width:84px;height:25px"><b>Sei preoccupato per il signor Coccinella,</b> chiedi alla api che passano[[Contatta il signor Ladybug]]</div>
<div class="t" style="left:1432px;top:487px;width:75px;height:25px"><b>Le formiche andranno in giro</b> per chiedere informazioni alla coccinella</div>
<div class="t" style="left:1328px;top:528px;width:90px;height:42px">L'ape dice "Io devo ritrovarti il signor Ladybug e il signor Ladybug sta lavorando molto lontano per spargere semi per altri fiori e piante. Quindi non riesce a vedere il tuo messaggio"</div>
<div class="t" style="left:1427px;top:530px;width:90px;height:33px">Ci vuole molta energia per arrivare <b>nel lontano e ha bisogno del tuo</b> aiuto per cercarlo per le formiche di ottenere più energia.</div>
<div class="t" style="left:1234px;top:575px;width:72px;height:17px">Quindi decidi tu[[Inviare che arrivi il signor Ladybug]]</div>
<div class="t" style="left:1328px;top:572px;width:90px;height:17px">Se vuoi che l'ape invii il tuo invito a Mr. Ladybug, devi dare il tuo ottimo</div>
<div class="t" style="left:1114px;top:598px;width:105px;height:38px">Fantastico, hai fornito energia per salvare Tricker. Dopo averti ripreso, Tricker ti disse timidamente: "Grazie per il tuo aiuto! So che prima</div>
<div class="t" style="left:1462px;top:588px;width:45px;height:25px">Aiuta lo scrive,[[Completa la sfida]]</div>
<div class="t" style="left:1291px;top:617px;width:75px;height:17px">Completa la sfida, per favore api per aiutare l'invito</div>
<div class="t" style="left:1366px;top:617px;width:60px;height:17px"><b>continui [[In attesa</b> che arrivi il signor Ladybug</div>

<!-- panel 4 text -->
<div class="t" style="left:1615px;top:47px;width:105px;height:17px">Fantastico, hai fornito energia per salvare Tricker.</div>
<div class="t" style="left:1615px;top:67px;width:105px;height:58px">Dopo averti ripreso, Tricker ti disse timidamente: "Grazie per il tuo aiuto! So che prima ero troppo egoista e arrogante, quindi ho deciso la cosa sbagliata e ho lasciato che i nostri nemici naturali vedessero nel mistero, ma alla fine mi resero conto che è più difficile che le scatole a sorpresa vadano ai nostri nemici. Spero che tu possa perdonarmi."</div>
<div class="t" style="left:1610px;top:144px;width:50px;height:33px">[[Perdonalo]] "Non importa, spero che potremo aiutarci in futuro!"</div>
<div class="t" style="left:1674px;top:144px;width:58px;height:17px">Chiedigli dove sono le altre scatole a sorpresa?</div>
<div class="t" style="left:1678px;top:171px;width:92px;height:17px">"Davvero scusa, non so dove siano i Tricker's tesori!" Dice Tricker</div>
<div class="t" style="left:1607px;top:192px;width:58px;height:167px">Questa volta il tuo parassita dovrà davvero colpire, quindi da oggi in poi con maneggevolezza più. Mi danneggerà i nuovi controlli. Tuttavia, la pioggia nella foresta sta diventando più grande, il fiume sta diventando sempre più in alto e molte piccole piante sono state sommerse. Ma Tricker conosce molto bene la terra. Le sue radici sono cresciute molto lontano. Sente che le formiche sono state allontanate, quindi ti dice "Potrebbero esserci dei pericoli lungo, abbiamo bisogno di recuperare, <b>aiutami a recuperare</b> l'aggressività dei cattivi, istanto dovresti un segnale di avvertimento."</div>
<div class="t" style="left:1678px;top:192px;width:92px;height:92px">Per ringraziarti, voleva davvero aiutarti a trovare la seconda scatola a sorpresa, quando stava per rilasciare il segnale per trovare il suo volatile di campagna, la pioggia molto, ma Tricker conosceva molto bene la terra. Tuttavia, sentì che la terra sotto i suoi piedi tremava, allarmato, quindi ti disse: "Potrebbero esserci dei pericoli in futuro! Ma dobbiamo cooperare, aiutami a proteggere <b>e dall'aggressione dei cattivi, invierò</b> un segnale di allarme".</div>
<div class="t" style="left:1790px;top:65px;width:70px;height:17px">Completa la sfida, per favore api per aiutare l'invito</div>
<div class="t" style="left:1866px;top:65px;width:62px;height:17px">continui [[In attesa che arrivi il signor Ladybug</div>
<div class="t" style="left:1959px;top:47px;width:55px;height:9px">Ladybug, conoscere la sfida]]</div>
<div class="t b" style="left:1948px;top:84px;width:65px;height:17px">Tornerai il minigioco del fiume</div>
<div class="t" style="left:1948px;top:105px;width:60px;height:9px">Successo del gioco</div>
<div class="t" style="left:1790px;top:98px;width:68px;height:33px">Entra nel gioco di missione, completa con fiume e ghiaia nella sicurezza per ottenere più energia.</div>
<div class="t" style="left:1790px;top:135px;width:60px;height:9px">Successo del gioco</div>
<div class="t" style="left:1865px;top:101px;width:68px;height:50px">Non devi lavorare molto, ancora <b>quasi più salvato a lontano</b> Mr. Ladybug a venire, e alle due non ha ancora aspettato Mr. Ladybug a casa della <b>tua pioggia.</b></div>
<div class="t" style="left:1792px;top:152px;width:65px;height:9px">Il signor Ladybug è qui</div>
<div class="t" style="left:1865px;top:149px;width:68px;height:33px">"Bene... La pioggia ti è sempre più grande il fiume si fa sempre più alto, sembra che pronto sia allagato qui.</div>
<div class="t" style="left:1773px;top:175px;width:70px;height:75px">Il signor Ladybug si avvicinò, ma non aveva il tempo di aiutare a salutarsi, perché avevi dato il comunicato a tutti che ci sarebbe stata una <b>pioggia più grande e che se</b> non fosse stato fermato, in tempo, ci sarebbero inondazioni dalle alluvioni.</div>
<div class="t" style="left:1846px;top:200px;width:62px;height:50px">Il fungo dice che l'acqua del fiume era bloccata e così che molto di dividere rapidamente verso il grande fiume, quindi l'acqua accumulata era molto alta, quindi</div>
<div class="t b" style="left:1844px;top:251px;width:62px;height:17px">Trova un modo per fermare il fiume.</div>
<div class="t" style="left:1917px;top:200px;width:50px;height:17px">Non ci sono alcun il fiume ad aiutare la pioggia finisce</div>
<div class="t" style="left:1917px;top:233px;width:62px;height:42px">Dunque il troppo profondo, gradualmente le piante intorno a te vengono sommerse e anche tu sei <b>sommerso...</b></div>
<div class="t" style="left:1938px;top:303px;width:25px;height:9px;color:#c22">Start</div>
<div class="t" style="left:1729px;top:298px;width:65px;height:33px">Ignorando l'alluvione, dice a gli chiederò come sorprese <b>che accidenti mi accidente</b> sorpresa</div>
<div class="t" style="left:1796px;top:298px;width:55px;height:17px">Trova un modo per fermare il fiume.</div>
<div class="t" style="left:1808px;top:325px;width:92px;height:42px">Mushroom dice: Il piccolo fiume non riuscirà a trovare la strada per tornare a casa di suo padre, e anche molto triste, perché il piccolo fiume era perduto, quindi ci saranno inondazioni, dobbiamo aiutare il piccolo fiume.</div>
<div class="t" style="left:1713px;top:333px;width:62px;height:33px">Non ho aspettato che il signor Ladybug partisse. l'acqua ti ha aiutato e il tuo aiuto ti ha fatto fallire!</div>
<div class="r rb" style="left:1653px;top:374px;width:52px;height:34px">Se hai già ricevuto una scatola a sorpresa, la scatola a sorpresa può darti la possibilità di tornare[[livello2]]</div>
<div class="r rb" style="left:1744px;top:374px;width:63px;height:13px">Se vuoi iniziare di nuovo[[Start!]]</div>
<div class="t" style="left:1815px;top:384px;width:72px;height:17px">Aiuta il piccolo fiume a completare la missione.</div>
<div class="t" style="left:1608px;top:423px;width:35px;height:25px">Trova altri alleati per aiutarti</div>
<div class="t" style="left:1648px;top:423px;width:42px;height:33px">Collabora con Tricker per completare la missione!</div>
<div class="t" style="left:1695px;top:438px;width:45px;height:33px"><b>Hai ascoltato per-</b> ma, quindi decidi tu[[Non credo più alla sua previsione]]</div>
<div class="t" style="left:1753px;top:438px;width:42px;height:58px"><b>Chi credi a quei</b> che possono informare tutti in tempo per proteggerli. [[Collabora con Tricker per completare la missione!]]</div>
<div class="t" style="left:1608px;top:458px;width:72px;height:117px">Credi ai tuoi amici, le particelle ai funghi e alla connessione di rete tra loro, quindi decidi di trovare funghi per chiedergli sulla notizia e vera. Mushroom ti dice che è vero, e ha detto la ragione, ha detto, <b>"Il piccolo fiume non riesce a</b> trovare una strada per tornare a casa di sua madre, è anche triste, perché anche il piccolo fiume si è perso, potrebbero esserci delle alluvioni, dobbiamo Aiuta il piccolo fiume".</div>
<div class="r" style="left:1689px;top:488px;width:56px;height:45px">L'acqua è troppo profonda e gradualmente le piante intorno a te vengono sommerse e anche tu sei sommerso... [[Start!]]</div>
<div class="t" style="left:1834px;top:443px;width:108px;height:25px">Entra nel gioco di missione, colorazione delle piante (sezione) Il gioco è stato completato.</div>
<div class="t" style="left:1834px;top:471px;width:115px;height:58px">Congratulazioni, hai trovato molti piccoli partner, alcuni sono responsabili della consulenza con le gocce di pioggia, altri sono responsabili della consulenza con le piante che bloccano la piccola strada fluviale e altri ancora sono responsabili dell'stato delle giovani piante che sono state sommerse. Infine, il piccolo fiume può andare senza intoppi in cerca del grande fiume.</div>
<div class="t" style="left:1834px;top:531px;width:115px;height:33px">Anche se non hai una scatola a sorpresa, capisci <b>il potere della cooperazione, vero? Vedi, a causa</b> della tua unità, la tua città è di nuovo migliorata, è ancora più bella!</div>
<div class="t" style="left:1608px;top:575px;width:92px;height:60px">Grande. Lo sai! È anche meraviglioso, scarso il tuo sono <b>un meraviglioso</b> Quando hai deciso di aiutare Lisa, i parassiti si stanno calmano così avvenne già presso, quindi sono fuggiti tutti, lasciando subito una scatola di sorpresa. Quindi accade hai ottenuto la scatola delle sorprese attraverso i tuoi</div>
<div class="pg" style="left:1990px;top:610px">135</div>

<!-- panel 7 text -->
<div class="t" style="left:1205px;top:754px;width:92px;height:25px">sole, ma tutti aiuti a vicenda, nessuno è <b>ferito. Le piante e il vento ti proteggono.</b> Il regno vegetale è stato restaurato!</div>
<div class="t" style="left:1205px;top:783px;width:80px;height:9px">Hai una scatola a sorpresa!</div>
<div class="g" style="left:1268px;top:817px;width:37px;height:15px">Livello 4</div>
<div class="t" style="left:1246px;top:857px;width:92px;height:83px">Pochi giorni dopo, il regno ha ripristinato <b>il suo brillantino colore verde e tutti</b> frutti colorati. Hai sempre più amici, ci sono alberi, fiori, erba, vento, nuvole, acqua, pietre e perfino aria. "Benvenuto nel regno verde" L'uccello dalla regina canta nella foresta, tutti sono felici, lentamente hai trovato molti ricordi, e scopri che hai una zia che vive in un'altra città.</div>
<div class="t" style="left:1205px;top:949px;width:75px;height:9px">Incontra più amici di piante</div>
<div class="t" style="left:1284px;top:949px;width:75px;height:9px">Contatta la zia in lontananza[]</div>
<div class="t" style="left:1124px;top:978px;width:90px;height:33px">Entra nell'interfaccia di apprendimento quotidiano, scatta foto e raccogli nuove piante, dopo averlo scoperto[[Il tuo vicino]]</div>
<div class="t" style="left:1222px;top:978px;width:40px;height:33px">Vai da altri amici[[Informati sulle novità nella scatola a sorpresa]]</div>
<div class="t" style="left:1284px;top:975px;width:95px;height:50px">Lascia che le formiche mandino una lettera alla zia per chiedere informazioni sulla situazione della sua casa. Non hai energia sufficiente per affrontare il parassita. [[Elimina i parassiti per guadagnare energia]]</div>
<div class="t" style="left:1124px;top:1014px;width:92px;height:25px"><b>Ciao, mi chiamo "Ti Ti e sono il tuo nuo-</b>vo vicino, grazie per il tuo aiuto. Rispondi: "Prego". poi,</div>
<div class="t" style="left:1131px;top:1050px;width:45px;height:17px">Passeretto ad altri amici</div>
<div class="t" style="left:1195px;top:1050px;width:45px;height:25px">Informati sulla novità nella scatola a sorpresa</div>
<div class="t" style="left:1284px;top:1024px;width:95px;height:42px">Dopo aver inviato la lettera, passarono alcuni giorni. <b>Ogni sono tornate le formiche e hanno</b> portato la risposta della zia. Vuoi aprire la lettera?</div>
<div class="t" style="left:1300px;top:1076px;width:40px;height:9px">Lettera aperta</div>
<div class="t" style="left:1352px;top:1076px;width:30px;height:9px">non ora</div>
<div class="t" style="left:1131px;top:1083px;width:82px;height:83px">Sapevo che stavi cercando una scatola a sorpresa. Per ringraziarti per averlo accolto, ha detto: "I miei amici hanno detto che stai cercando una scatola a sorpresa. <b>Da bambino, mio nonno ha detto</b> che ogni scatola a sorpresa è legata a una difficoltà. Solo potendo superare le difficoltà, troverai una scatola a sorpresa."</div>
<div class="t" style="left:1215px;top:1080px;width:62px;height:92px">Sapevo che stavi cercando una scatola a sorpresa. Per ringraziarti per averlo accolto, ha detto: "I miei amici hanno detto che stai cercando una scatola a sorpresa. Da bambino, mio nonno ha detto che ogni scatola a sorpresa è legata a una difficoltà. <b>Solo potendo superare le</b> difficoltà, troverai una scatola a sorpresa."</div>
<div class="t" style="left:1286px;top:1095px;width:70px;height:92px">Nella lettera la zia ha detto che non so perché di recente sono arrivati molti parassiti, e i frutti e il melone della zia sono stati portati via da loro. Pertanto, la zia coccinella e l'ape da nella città della <b>zia non hanno la forza di</b> combattere al sicuro le loro piante il politico e distruggere il nemico. Puoi aiutarla?</div>
<div class="t" style="left:1360px;top:1095px;width:97px;height:42px">Pochi giorni dopo, il pensiero della formica nella città della zia è arrivato in punto di panico, dicendo che la zia tiha dato un'altra lettera, dicendo che dovresti leggerla rapidamente e dire al positivo con ne prese.</div>
<div class="t" style="left:1360px;top:1141px;width:97px;height:58px"><b>La lettera diceva la Zia Molto forte,</b> spero che tu possa prenderti cura di te stesso, sempre più parassiti mettono molti piccoli amici, e poi lavorando, non ho mai visto un tale parassita, può consumare rapidamente la tua energia. Spero che tu possa prenderti cura di te stesso</div>
<div class="t" style="left:1131px;top:1165px;width:72px;height:25px">Quindi, pensi che l'ultima scatola a sorpresa porterà l'ultimo disastro?</div>
<div class="t b" style="left:1215px;top:1167px;width:60px;height:25px">Quindi, pensi che l'ultima scatola a sorpresa porterà l'ultimo disastro?</div>
<div class="t" style="left:1172px;top:1221px;width:15px;height:9px">SÌ</div>
<div class="t" style="left:1228px;top:1221px;width:15px;height:9px">NO</div>
<div class="t" style="left:1116px;top:1238px;width:77px;height:83px">Quindi non sai se dovresti trovare una scatola a sorpresa, perché quando trovi una scatola a sorpresa, puoi trovare tutti i ricordi, il tuo regno diventerà più forte, ma arriverà il disastro. Se non cerchi una scatola a sorpresa, non sarai in grado di <b>dare i tuoi frutti, quindi arriverà</b> davvero il disastro?</div>
<div class="t" style="left:1200px;top:1251px;width:50px;height:33px">Non ci credi, quindi continui[[Alla ricerca di una scatola a sorpresa]]</div>
<div class="t" style="left:1200px;top:1288px;width:42px;height:42px">Ma il disastro è arrivato troppo in fretta, nessuno può aiutarti</div>
<div class="t" style="left:1268px;top:1232px;width:50px;height:58px">Dillo al tuo buon amico signor Coccinella, [[Per aiutare la zia ad eliminare i parassiti]]. Entra nel <b>gioco di classificazione</b> dei parassiti.</div>
<div class="t" style="left:1322px;top:1232px;width:42px;height:25px">Aiuta la zia,[[Dai energia alla zia]]. Entra nel gioco da colorare)</div>
<div class="t" style="left:1266px;top:1290px;width:60px;height:42px">Il signor Ladybug è tornato, ha portato due notizie, una buona e una cattiva. Quale <b>vuoi ascoltare per</b> prima?</div>
<div class="t" style="left:1383px;top:1221px;width:30px;height:17px">Dai energia a zia</div>
<div class="t" style="left:1415px;top:1221px;width:45px;height:75px">Dillo al tuo buon amico signor Coccinella, [[Per aiutare la zia ad eliminare i parassiti]]. Entra nel gioco di classificazione <b>dei parassiti.</b></div>
<div class="t" style="left:1462px;top:1221px;width:48px;height:67px">[[Vai a raccogliere energia per proteggere]] [Accedi all'interfaccia di apprendimento quotidiano per la raccolta di foto</div>
<div class="t" style="left:1462px;top:1294px;width:55px;height:42px">Il virus sta arrivando troppo in fretta e hai energia, ma altri piccoli partner hanno perso la cooperazione e gli aiuti, e la tua città sta peggiorando</div>
<div class="t" style="left:1383px;top:1332px;width:60px;height:8px">Mia zia è molto grata per il</div>

<!-- panel 8 text -->
<div class="t" style="left:1666px;top:774px;width:15px;height:9px">SÌ</div>
<div class="t" style="left:1722px;top:774px;width:15px;height:9px">NO</div>
<div class="t" style="left:1763px;top:787px;width:50px;height:67px"><b>Dillo al tuo buon</b> amico signor Coccinella, [[Per aiutare la zia ad eliminare i parassiti]]. Entra nel gioco di classificazione dei parassiti.</div>
<div class="t" style="left:1817px;top:787px;width:52px;height:25px"><b>Aiuta la zia,[[Dai en-</b>ergia a zia]]. Entra nel gioco da colorare)</div>
<div class="t" style="left:1876px;top:775px;width:30px;height:17px">Dai energia a zia</div>
<div class="t" style="left:1910px;top:775px;width:45px;height:75px">Dillo al tuo buon amico signor <b>Coccinella, [[Per</b> aiutare la zia ad eliminare i parassiti]]. Entra nel gioco di classificazione dei parassiti.</div>
<div class="t" style="left:1958px;top:775px;width:55px;height:67px"><b>[[Vai a raccogliere energia per proteggere]] [Accedi</b> all'interfaccia di apprendimento quotidiano per la raccolta di foto</div>
<div class="t" style="left:1612px;top:793px;width:76px;height:83px">Quindi non sai se dovresti trovare una scatola a sorpresa, perché quando trovi una scatola <b>a sorpresa, puoi trovare tutti i</b> ricordi, il tuo regno diventerà più forte, ma arriverà il disastro. Se non cerchi una scatola a sorpresa, non sarai in grado di dare i tuoi frutti, quindi arriverà davvero il disastro?</div>
<div class="t" style="left:1695px;top:806px;width:48px;height:33px">Non ci credi, quindi <b>continui[[Alla ricerca</b> di una scatola a sorpresa]]</div>
<div class="t" style="left:1695px;top:843px;width:45px;height:42px">Ma il disastro è arrivato troppo in fretta, nessuno <b>può aiutarti</b></div>
<div class="t" style="left:1761px;top:845px;width:55px;height:50px">Il signor Ladybug è tornato, ha portato due notizie, una buona e una cattiva. Quale <b>vuoi ascoltare per</b> prima?</div>
<div class="t" style="left:1612px;top:880px;width:50px;height:17px">Invia una lettera a mia zia[[Chiedi a zia]]</div>
<div class="t" style="left:1958px;top:849px;width:55px;height:58px">Il virus sta arrivando troppo in fretta e <b>hai energia, ma altri</b> piccoli partner hanno perso la cooperazione e gli aiuti, e la tua città <b>sta peggiorando</b></div>
<div class="t" style="left:1879px;top:890px;width:78px;height:67px"><b>Mia zia</b> è molto grata per il tuo aiuto, quindi ha contattato tutti i tuoi <b>formaggi aiutarti</b> a informarti sulla scatola delle sorprese, ma la zia ha sentito abilità. Inoltre, questa notizia aggravazione il la realtà di sviluppo del virus.</div>
<div class="r" style="left:1958px;top:913px;width:52px;height:52px">Completa l'attività di classificazione dei parassiti e ritorna [[livello3 ]]</div>
<div class="t b" style="left:1635px;top:914px;width:62px;height:17px">Ho deciso di non trovare una scatola a sorpresa</div>
<div class="t" style="left:1753px;top:923px;width:45px;height:9px">Buone notizie</div>
<div class="t" style="left:1803px;top:923px;width:45px;height:9px">Cattive notizie</div>
<div class="t" style="left:1608px;top:942px;width:72px;height:25px">La zia non sapeva la novità della scatola a sorpresa, ma può aiutarti a cercarla</div>
<div class="t" style="left:1714px;top:959px;width:72px;height:50px">La buona notizia è che la zia ha <b>sentito le notizie della scatola a</b> sorpresa, ha ma detto che era connesso al disastro e quando il sistema è il disastro arriverebbero trovate la scatola a sorpresa.</div>
<div class="t" style="left:1608px;top:970px;width:72px;height:83px">Nella lettera la zia ha affermato che molti parassiti sono venuti di recente e che i frutti e il cetriolo <b>della zia sono stati portati via da</b> loro. Pertanto, la zia coccinella e l'ape da nella città della zia non hanno la forza di continuare ad aiutare la zia a trasmettere polline e distruggere il nemico. La zia vuole chiedere se puoi aiutarla?</div>
<div class="t" style="left:1849px;top:975px;width:50px;height:33px">[[Dillo a tutti]] Coraggio le abitudini di <b>salute, quindi lavora</b> la zia a fermare il virus.</div>
<div class="t" style="left:1902px;top:975px;width:52px;height:42px">Penso che il virus sta ancora lontano e che non è veramente così rapidamente. [[Non ci bisogno di dirlo agli altri]]</div>
<div class="t" style="left:1716px;top:1011px;width:72px;height:25px">Il nuovo virus ha detto le stesso, sembra vero, combatte e diretto</div>
<div class="t" style="left:1902px;top:1028px;width:52px;height:25px">Poiché i vicini iniziano a ammalarsi, i tuoi <b>amici si ammalano e la</b> tua malattia.</div>
<div class="t" style="left:1674px;top:1048px;width:118px;height:33px">Io e mia zia lo studiammo da tempo lungo tempo, questi non sono parassiti normali, sono virus, perché sono stati generati dopo il terremoto, il suo tasso di aggressività è molto elevato e rapido.</div>
<div class="t" style="left:1796px;top:1085px;width:52px;height:50px">Completa la sfida del labirinto, ottieni tre stelle, così potrai ottenere direttamente la scatola a sorpresa!</div>
<div class="r" style="left:1866px;top:1084px;width:49px;height:35px">Completa il gioco di classificazione dei parassiti e torna indietro [[livello2]]</div>
<div class="r" style="left:1919px;top:1084px;width:55px;height:30px">Se vuoi sperimentarlo di nuovo, la fusione ancora? [[Start!]]</div>
<div class="t" style="left:1653px;top:1095px;width:48px;height:83px">Sebbene la zia ha avuto un punto lontano dal luogo in cui è ancora <b>presente il virus, gli</b> ufficiali si diffondono presto nella nostra città, nella nostra casa. [[Dillo a tutti]] Presta attenzione alle abitudini igieniche e poi aiuta tua zia a fermare il virus.</div>
<div class="t" style="left:1704px;top:1095px;width:40px;height:50px">Penso che il virus sia ancora lontano e che non è veramente così rapidamente. [[Non ci bisogno di dirlo agli altri]]</div>
<div class="t" style="left:1747px;top:1095px;width:44px;height:75px">Poiché gli amici ammalano, quindi dopo vicino ammalano <b>appunti anche la</b> scatola delle sorprese. Quindi non puoi che questi <b>virus vadano per</b> primi[[ Alla ricerca di una scatola a sorpresa]]</div>
<div class="r" style="left:1691px;top:1222px;width:48px;height:36px">Ma il disastro è arrivato troppo in fretta, nessuno può aiutarti ### [[livello2]]</div>
<div class="r" style="left:1758px;top:1222px;width:48px;height:36px">Completa l'attività di classificazione dei parassiti e ritorna[[livello1]]</div>
<div class="g" style="left:1800px;top:1309px;width:48px;height:29px;color:#222">finale1</div>
<div class="pg" style="left:1997px;top:1312px">137</div>
</div>
</body></html>
